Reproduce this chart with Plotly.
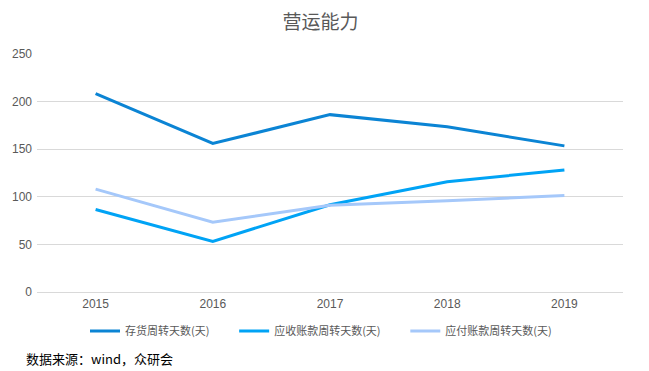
import plotly.graph_objects as go

years = ["2015", "2016", "2017", "2018", "2019"]
inventory_days = [208.4, 156.0, 186.3, 173.6, 153.5]
receivable_days = [86.6, 53.2, 91.6, 115.9, 128.2]
payable_days = [108.1, 73.3, 91.2, 95.8, 101.4]
series_names = ["存货周转天数(天)", "应收账款周转天数(天)", "应付账款周转天数(天)"]
colors = ["#0b84d4", "#00a3f5", "#a5c8fa"]
y_ticks = [0, 50, 100, 150, 200, 250]

pad = "\u00a0" * 8
fig = go.Figure()
for i, (name, vals, c) in enumerate(zip(series_names, [inventory_days, receivable_days, payable_days], colors)):
    fig.add_trace(go.Scatter(x=years, y=vals, name=name + (pad if i < 2 else ""), mode="lines",
                             line=dict(color=c, width=3)))

W, H = 641, 363  # page body has an 8px margin
ML, MR, MT, MB = 29, 26, 46, 79
PW, PH = W - ML - MR, H - MT - MB
fig.update_layout(
    width=W, height=H,
    margin=dict(l=ML, r=MR, t=MT, b=MB, autoexpand=False),
    paper_bgcolor="white", plot_bgcolor="white",
    font=dict(family="Noto Sans CJK SC, Liberation Sans, sans-serif", color="#595959", size=12),
    title=dict(text="营运能力", x=(318 - 8) / W, xanchor="center", y=1 - (22 - 8) / H, yanchor="middle",
               xref="paper", font=dict(size=19, color="#595959")),
    xaxis=dict(type="category", range=[-0.5, 4.5], showgrid=False, showline=False,
               ticks="", ticklabelstandoff=3, automargin=False,
               tickfont=dict(size=12, color="#595959", family="Liberation Sans, sans-serif")),
    yaxis=dict(range=[0, 250], tickvals=y_ticks, showgrid=True, gridcolor="#d9d9d9", gridwidth=1,
               zeroline=True, zerolinecolor="#d9d9d9", zerolinewidth=1, showline=False, ticks="",
               ticklabelstandoff=4, automargin=False,
               tickfont=dict(size=12, color="#595959", family="Liberation Sans, sans-serif")),
    legend=dict(orientation="h", xref="paper", yref="paper", x=(321 - 8 - ML) / PW,
                xanchor="center", y=-(331 - 292) / PH, yanchor="middle",
                font=dict(size=11, color="#595959"), itemwidth=30, tracegroupgap=0),
    showlegend=True,
)
fig.add_annotation(text="数据来源：wind，众研会", xref="paper", yref="paper",
                   x=-(37 - 24) / PW, y=-(358 - 292) / PH,
                   xanchor="left", yanchor="middle", showarrow=False,
                   font=dict(size=13, color="#000000"))

fig.write_html("out.html")
